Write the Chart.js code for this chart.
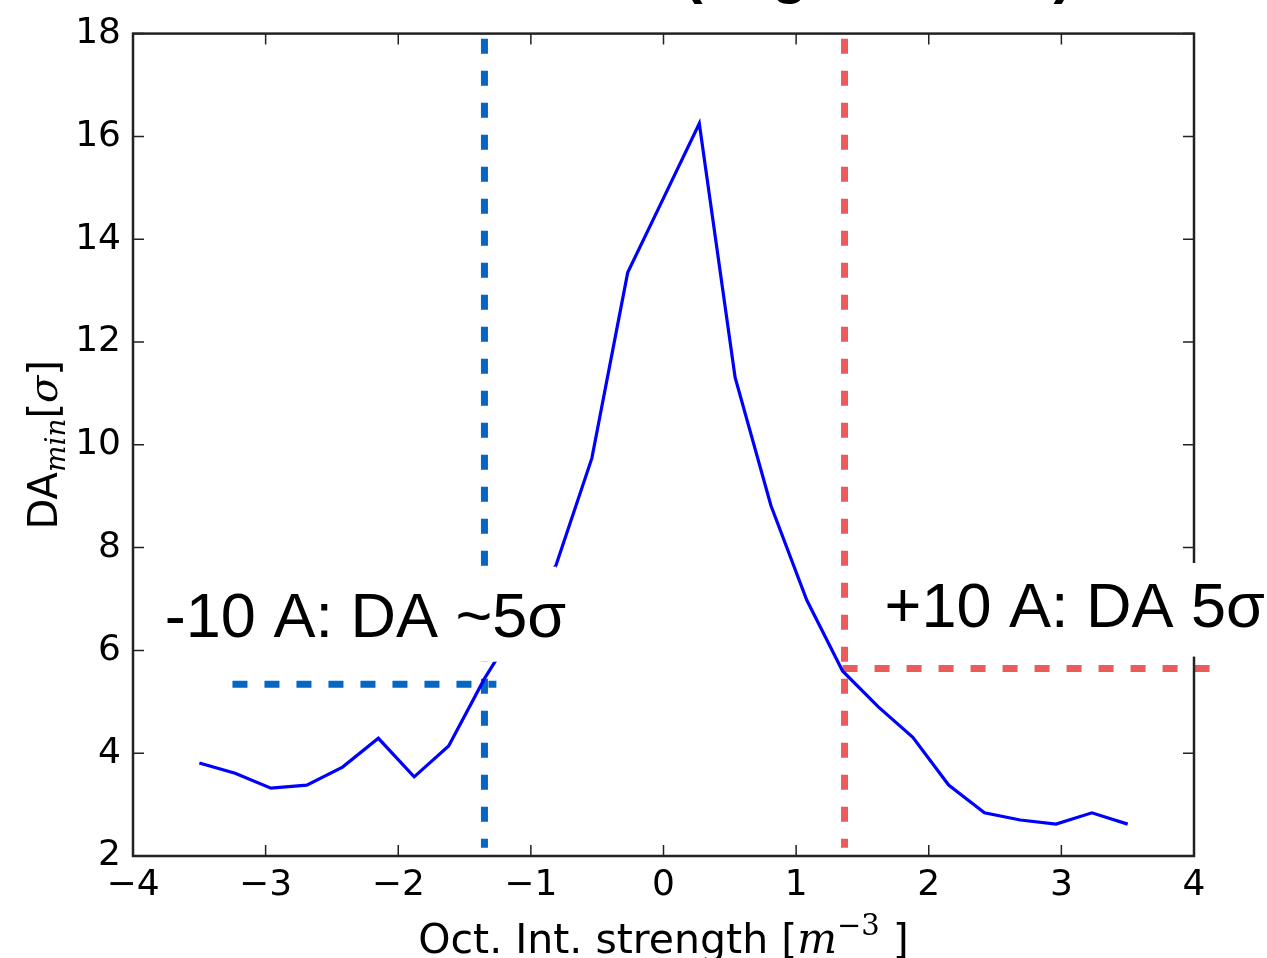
<!DOCTYPE html>
<html lang="en">
<head>
<meta charset="UTF-8">
<title>DA min vs octupole strength</title>
<script src="https://cdn.jsdelivr.net/npm/chart.js"></script>
<style>
  html, body { margin: 0; padding: 0; background: #fff; }
  #wrap { width: 1267px; height: 958px; }
</style>
</head>
<body>
<div id="wrap"><canvas id="daChart" width="1267" height="958"></canvas></div>
<script>
// octupole strength (x) and minimum DA in sigma
const octStrength = [-3.5, -3.23, -2.96, -2.69, -2.42, -2.15, -1.88, -1.62, -1.35, -1.08, -0.81, -0.54, -0.27, 0,
    0.27, 0.54, 0.81, 1.08, 1.35, 1.62, 1.88, 2.15, 2.42, 2.69, 2.96, 3.23, 3.5];
const daMin = [3.81, 3.61, 3.32, 3.38, 3.73, 4.29, 3.54, 4.14, 5.45, 6.57, 7.66, 9.74, 13.35, 14.8,
    16.25, 11.31, 8.82, 6.98, 5.6, 4.9, 4.31, 3.38, 2.84, 2.7, 2.62, 2.84, 2.62];

// the -10 A / +10 A guide lines
const negGuideX = [-1.35, -1.35];
const negGuideY = [17.9, 2.16];
const negLevelX = [-3.25, -1.26];
const negLevelY = [5.34, 5.34];
const posGuideX = [1.365, 1.365];
const posGuideY = [17.9, 2.16];
const posLevelX = [1.35, 4.12];
const posLevelY = [5.65, 5.65];

const xTicks = [-4, -3, -2, -1, 0, 1, 2, 3, 4];
const yTicks = [2, 4, 6, 8, 10, 12, 14, 16, 18];

const notes = [
    { text: '-10 A: DA ~5\u03c3', x: -3.76, y: 6.26, box: [-3.8, -0.81, 7.63, 5.78] },
    { text: '+10 A: DA 5\u03c3', x: 1.667, y: 6.45, box: [1.57, 4.6, 7.7, 5.88] }
];

const toPts = (xs, ys) => xs.map((x, i) => ({ x: x, y: ys[i] }));
const minus = v => String(v).replace('-', '\u2212');

// frame, inward ticks, boxed notes, axis titles with math bits
const decor = {
    id: 'decor',
    afterDraw(chart) {
        const { ctx, chartArea: a, scales: { x, y } } = chart;
        ctx.save();
        ctx.strokeStyle = '#222';
        ctx.lineWidth = 1.5;
        xTicks.forEach(v => {
            const px = x.getPixelForValue(v);
            ctx.beginPath();
            ctx.moveTo(px, a.bottom); ctx.lineTo(px, a.bottom - 11);
            ctx.moveTo(px, a.top); ctx.lineTo(px, a.top + 11);
            ctx.stroke();
        });
        yTicks.forEach(v => {
            const py = y.getPixelForValue(v);
            ctx.beginPath();
            ctx.moveTo(a.left, py); ctx.lineTo(a.left + 11, py);
            ctx.moveTo(a.right, py); ctx.lineTo(a.right - 11, py);
            ctx.stroke();
        });
        ctx.lineWidth = 2.5;
        ctx.strokeRect(a.left, a.top, a.right - a.left, a.bottom - a.top);

        // notes on white boxes
        notes.forEach(n => {
            const l = x.getPixelForValue(n.box[0]), r = x.getPixelForValue(n.box[1]);
            const t = y.getPixelForValue(n.box[2]), b = y.getPixelForValue(n.box[3]);
            ctx.fillStyle = '#fff';
            ctx.fillRect(l, t, r - l, b - t);
            ctx.fillStyle = '#000';
            ctx.font = '63px "Liberation Sans", Arial, sans-serif';
            ctx.textAlign = 'left';
            ctx.textBaseline = 'alphabetic';
            ctx.fillText(n.text, x.getPixelForValue(n.x), y.getPixelForValue(n.y));
        });

        // slide title, mostly above the picture
        ctx.font = 'bold 59px "Liberation Sans", Arial, sans-serif';
        ctx.fillText('(neg. chroma)', 683, -8);

        // x title: Oct. Int. strength [m^-3]
        ctx.fillStyle = '#000';
        const base = 953;
        const sans = '41px "DejaVu Sans"';
        const ital = 'italic 42px "DejaVu Serif"';
        const sup = '29px "DejaVu Serif"';
        const parts = [
            ['Oct. Int. strength [', sans, 0],
            ['m', ital, 0],
            ['\u22123', sup, -18],
            [' ]', sans, 0]
        ];
        let w = 0;
        parts.forEach(p => { ctx.font = p[1]; w += ctx.measureText(p[0]).width; });
        let cx = (a.left + a.right) / 2 - w / 2;
        parts.forEach(p => {
            ctx.font = p[1];
            ctx.fillText(p[0], cx, base + p[2]);
            cx += ctx.measureText(p[0]).width;
        });

        // y title: DA_min [sigma]
        ctx.translate(57, (a.top + a.bottom) / 2);
        ctx.rotate(-Math.PI / 2);
        const yparts = [
            ['DA', '40px "DejaVu Sans"', 0],
            ['min', 'italic 28px "DejaVu Serif"', 8],
            ['[', '40px "DejaVu Sans"', 0],
            ['\u03c3', 'italic 40px "DejaVu Serif"', 0],
            [']', '40px "DejaVu Sans"', 0]
        ];
        w = 0;
        yparts.forEach(p => { ctx.font = p[1]; w += ctx.measureText(p[0]).width; });
        cx = -w / 2;
        yparts.forEach(p => {
            ctx.font = p[1];
            ctx.fillText(p[0], cx, p[2]);
            cx += ctx.measureText(p[0]).width;
        });
        ctx.restore();
    }
};

const guide = (xs, ys, color) => ({
    data: toPts(xs, ys),
    borderColor: color,
    borderWidth: 7,
    borderDash: [15, 17],
    pointRadius: 0,
    clip: false,
    order: 2
});

new Chart(document.getElementById('daChart'), {
    type: 'line',
    data: {
        datasets: [
            {
                data: toPts(octStrength, daMin),
                borderColor: '#0000ff',
                borderWidth: 3.2,
                pointRadius: 0,
                tension: 0,
                order: 1
            },
            guide(negGuideX, negGuideY, '#0566c4'),
            guide(negLevelX, negLevelY, '#0566c4'),
            guide(posGuideX, posGuideY, '#ec5b5b'),
            guide(posLevelX, posLevelY, '#ec5b5b')
        ]
    },
    options: {
        responsive: false,
        animation: false,
        layout: { padding: { top: 33, right: 73, left: 0, bottom: 0 } },
        plugins: {
            legend: { display: false },
            tooltip: { enabled: false }
        },
        scales: {
            x: {
                type: 'linear',
                min: -4, max: 4,
                afterFit: s => { s.height = 102; },
                afterBuildTicks: s => { s.ticks = xTicks.map(v => ({ value: v })); },
                grid: { display: false, drawTicks: false },
                border: { display: false },
                ticks: {
                    padding: 8,
                    color: '#000',
                    font: { family: 'DejaVu Sans', size: 36 },
                    callback: v => minus(v)
                }
            },
            y: {
                min: 2, max: 18,
                afterFit: s => { s.width = 133; },
                afterBuildTicks: s => { s.ticks = yTicks.map(v => ({ value: v })); },
                grid: { display: false, drawTicks: false },
                border: { display: false },
                ticks: {
                    padding: 12,
                    color: '#000',
                    font: { family: 'DejaVu Sans', size: 36 },
                    callback: v => minus(v)
                }
            }
        }
    },
    plugins: [decor]
});
</script>
</body>
</html>
